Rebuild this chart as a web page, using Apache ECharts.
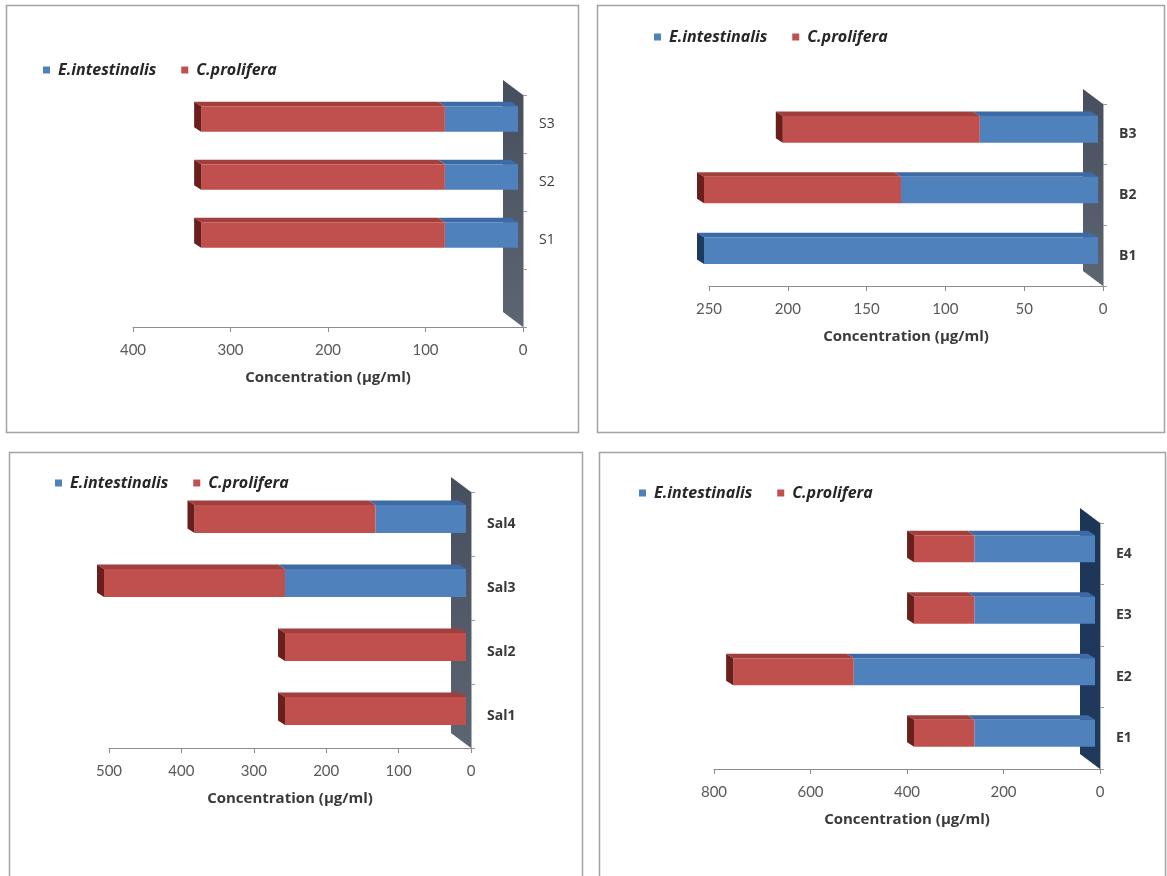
<!DOCTYPE html>
<html>
<head>
<meta charset="utf-8">
<script src="https://cdn.jsdelivr.net/npm/echarts@6/dist/echarts.min.js"></script>
<style>
  html, body { margin: 0; padding: 0; background: #fff; }
  #chart { width: 1167px; height: 876px; }
</style>
</head>
<body>
<div id="chart"></div>
<script>
// --- data ---
const sCats = ['', 'S1', 'S2', 'S3'];
const sEnt = [0, 75, 75, 75];
const sPro = [0, 250, 250, 250];

const bCats = ['B1', 'B2', 'B3'];
const bEnt = [250, 125, 75];
const bPro = [0, 125, 125];

const salCats = ['Sal1', 'Sal2', 'Sal3', 'Sal4'];
const salEnt = [0, 0, 250, 125];
const salPro = [250, 250, 250, 250];

const eCats = ['E1', 'E2', 'E3', 'E4'];
const eEnt = [250, 500, 250, 250];
const ePro = [125, 250, 125, 125];

// value axis ranges [max, interval]
const sAxis = [400, 100];
const bAxis = [250, 50];
const salAxis = [500, 100];
const eAxis = [800, 200];

const SERIES_NAMES = ['E.intestinalis', 'C.prolifera'];
const AXIS_TITLE = 'Concentration (\u00b5g/ml)';

// --- look ---
const FONT = 'Lato, "Open Sans", sans-serif';
const FONT_WIDE = '"Open Sans", Lato, sans-serif';
const BLUE = ['#4f81bd', '#3e6aa6', '#1f3a60'];   // front, top, side
const RED = ['#c0504d', '#a13f3c', '#6b1f1d'];
const SHIFT = 5, DX = 7, DY = 4.5;  // fake 3d depth
const WX = 20, WY = 15;

const chart = echarts.init(document.getElementById('chart'), null, {renderer: 'canvas'});

function barRenderer(colors) {
    return function (params, api) {
        const cat = api.value(0), from = api.value(1), to = api.value(2);
        if (!(to > from)) return null;
        const band = api.size([0, 1])[1];
        const h = band * 0.44;
        const yTop = api.coord([0, cat])[1] - 5 - h / 2;
        const xr = api.coord([from, cat])[0] - SHIFT;
        const xl = api.coord([to, cat])[0] - SHIFT;
        const kids = [
            {type: 'polygon', shape: {points: [[xl, yTop], [xr, yTop], [xr - DX, yTop - DY], [xl - DX, yTop - DY]]},
                style: {fill: colors[1]}},
            {type: 'rect', shape: {x: xl, y: yTop, width: xr - xl, height: h}, style: {fill: colors[0]}}
        ];
        if (api.value(3)) {
            kids.push({type: 'polygon',
                shape: {points: [[xl, yTop], [xl, yTop + h], [xl - DX, yTop + h - DY], [xl - DX, yTop - DY]]},
                style: {fill: colors[2]}});
        }
        return {type: 'group', children: kids};
    };
}

function wallRenderer(n, c0, c1) {
    return function (params, api) {
        const band = api.size([0, 1])[1];
        const x = api.coord([0, 0])[0];
        const yBot = api.coord([0, 0])[1] + band / 2;
        const yTop = api.coord([0, n - 1])[1] - band / 2;
        return {
            type: 'polygon',
            shape: {points: [[x, yTop], [x, yBot], [x - WX, yBot - WY], [x - WX, yTop - WY]]},
            style: {fill: new echarts.graphic.LinearGradient(0, 0, 0, 1, [
                {offset: 0, color: c0}, {offset: 1, color: c1}])}
        };
    };
}

const grids = [], xAxes = [], yAxes = [], series = [], legends = [];

function addPanel(i, cats, ent, pro, axis, grid, legendPos, wall, boldCats) {
    grids.push(Object.assign({containLabel: false}, grid));
    xAxes.push({
        type: 'value', gridIndex: i, inverse: true, min: 0, max: axis[0], interval: axis[1],
        position: 'bottom',
        name: AXIS_TITLE, nameLocation: 'middle', nameGap: 43,
        nameTextStyle: {fontFamily: FONT_WIDE, fontWeight: 'bold', fontSize: 15, color: '#3a3a3a'},
        axisLine: {show: true, lineStyle: {color: '#8c8c8c', width: 1}},
        axisTick: {show: true, length: 5, lineStyle: {color: '#8c8c8c'}},
        axisLabel: {margin: 16, fontFamily: FONT, fontSize: 15, color: '#595959'},
        splitLine: {show: false}
    });
    yAxes.push({
        type: 'category', gridIndex: i, data: cats, position: 'right',
        axisLine: {show: true, lineStyle: {color: '#b0b0b0'}},
        axisTick: {show: true, length: 4, lineStyle: {color: '#9a9a9a'}},
        axisLabel: {margin: 16, fontFamily: FONT_WIDE, fontSize: 14, color: '#3a3a3a',
            fontWeight: boldCats ? 'bold' : 'normal'},
        splitLine: {show: false}
    });
    series.push({
        type: 'custom', name: 'wall' + i, xAxisIndex: i, yAxisIndex: i, z: 1, silent: true,
        renderItem: wallRenderer(cats.length, wall[0], wall[1]),
        encode: {x: 1, y: 0}, data: [[0, 0]]
    });
    const entData = [], proData = [];
    cats.forEach(function (c, k) {
        entData.push([k, 0, ent[k], pro[k] > 0 ? 0 : 1]);
        proData.push([k, ent[k], ent[k] + pro[k], 1]);
    });
    series.push({
        type: 'custom', name: SERIES_NAMES[0], xAxisIndex: i, yAxisIndex: i, z: 3,
        itemStyle: {color: BLUE[0]}, renderItem: barRenderer(BLUE),
        encode: {x: [1, 2], y: 0}, data: entData
    });
    series.push({
        type: 'custom', name: SERIES_NAMES[1], xAxisIndex: i, yAxisIndex: i, z: 3,
        itemStyle: {color: RED[0]}, renderItem: barRenderer(RED),
        encode: {x: [1, 2], y: 0}, data: proData
    });
    legends.push({
        data: SERIES_NAMES.map(function (n) { return {name: n, icon: 'rect'}; }),
        left: legendPos[0], top: legendPos[1], padding: 0,
        itemWidth: 7, itemHeight: 7, itemGap: 25,
        textStyle: {fontFamily: FONT_WIDE, fontStyle: 'italic', fontWeight: 'bold', fontSize: 16,
            color: '#262626', lineHeight: 20, padding: [0, 0, 0, 3]},
        selectedMode: false
    });
}

addPanel(0, sCats, sEnt, sPro, sAxis, {left: 133, top: 95, width: 390, height: 232},
    [43, 60], ['#474f5e', '#5d6472'], false);
addPanel(1, bCats, bEnt, bPro, bAxis, {left: 709, top: 104, width: 394, height: 182},
    [654, 27], ['#474f5e', '#5d6472'], true);
addPanel(2, salCats, salEnt, salPro, salAxis, {left: 109, top: 492, width: 362, height: 256},
    [55, 473], ['#474f5e', '#5d6472'], true);
addPanel(3, eCats, eEnt, ePro, eAxis, {left: 714, top: 523, width: 386, height: 246},
    [639, 483], ['#1d3557', '#203a5e'], true);

function frame(x, y, w, h) {
    return {type: 'rect', silent: true, z: 0,
        shape: {x: x, y: y, width: w, height: h},
        style: {fill: 'none', stroke: '#a3a3a3', lineWidth: 1.5}};
}

chart.setOption({
    backgroundColor: '#fff',
    animation: false,
    grid: grids,
    xAxis: xAxes,
    yAxis: yAxes,
    legend: legends,
    series: series,
    graphic: [
        frame(6.5, 5.5, 572, 427),
        frame(597.5, 5.5, 567, 427),
        frame(9.5, 452.5, 573, 430),
        frame(599.5, 452.5, 566, 430)
    ]
});
</script>
</body>
</html>
